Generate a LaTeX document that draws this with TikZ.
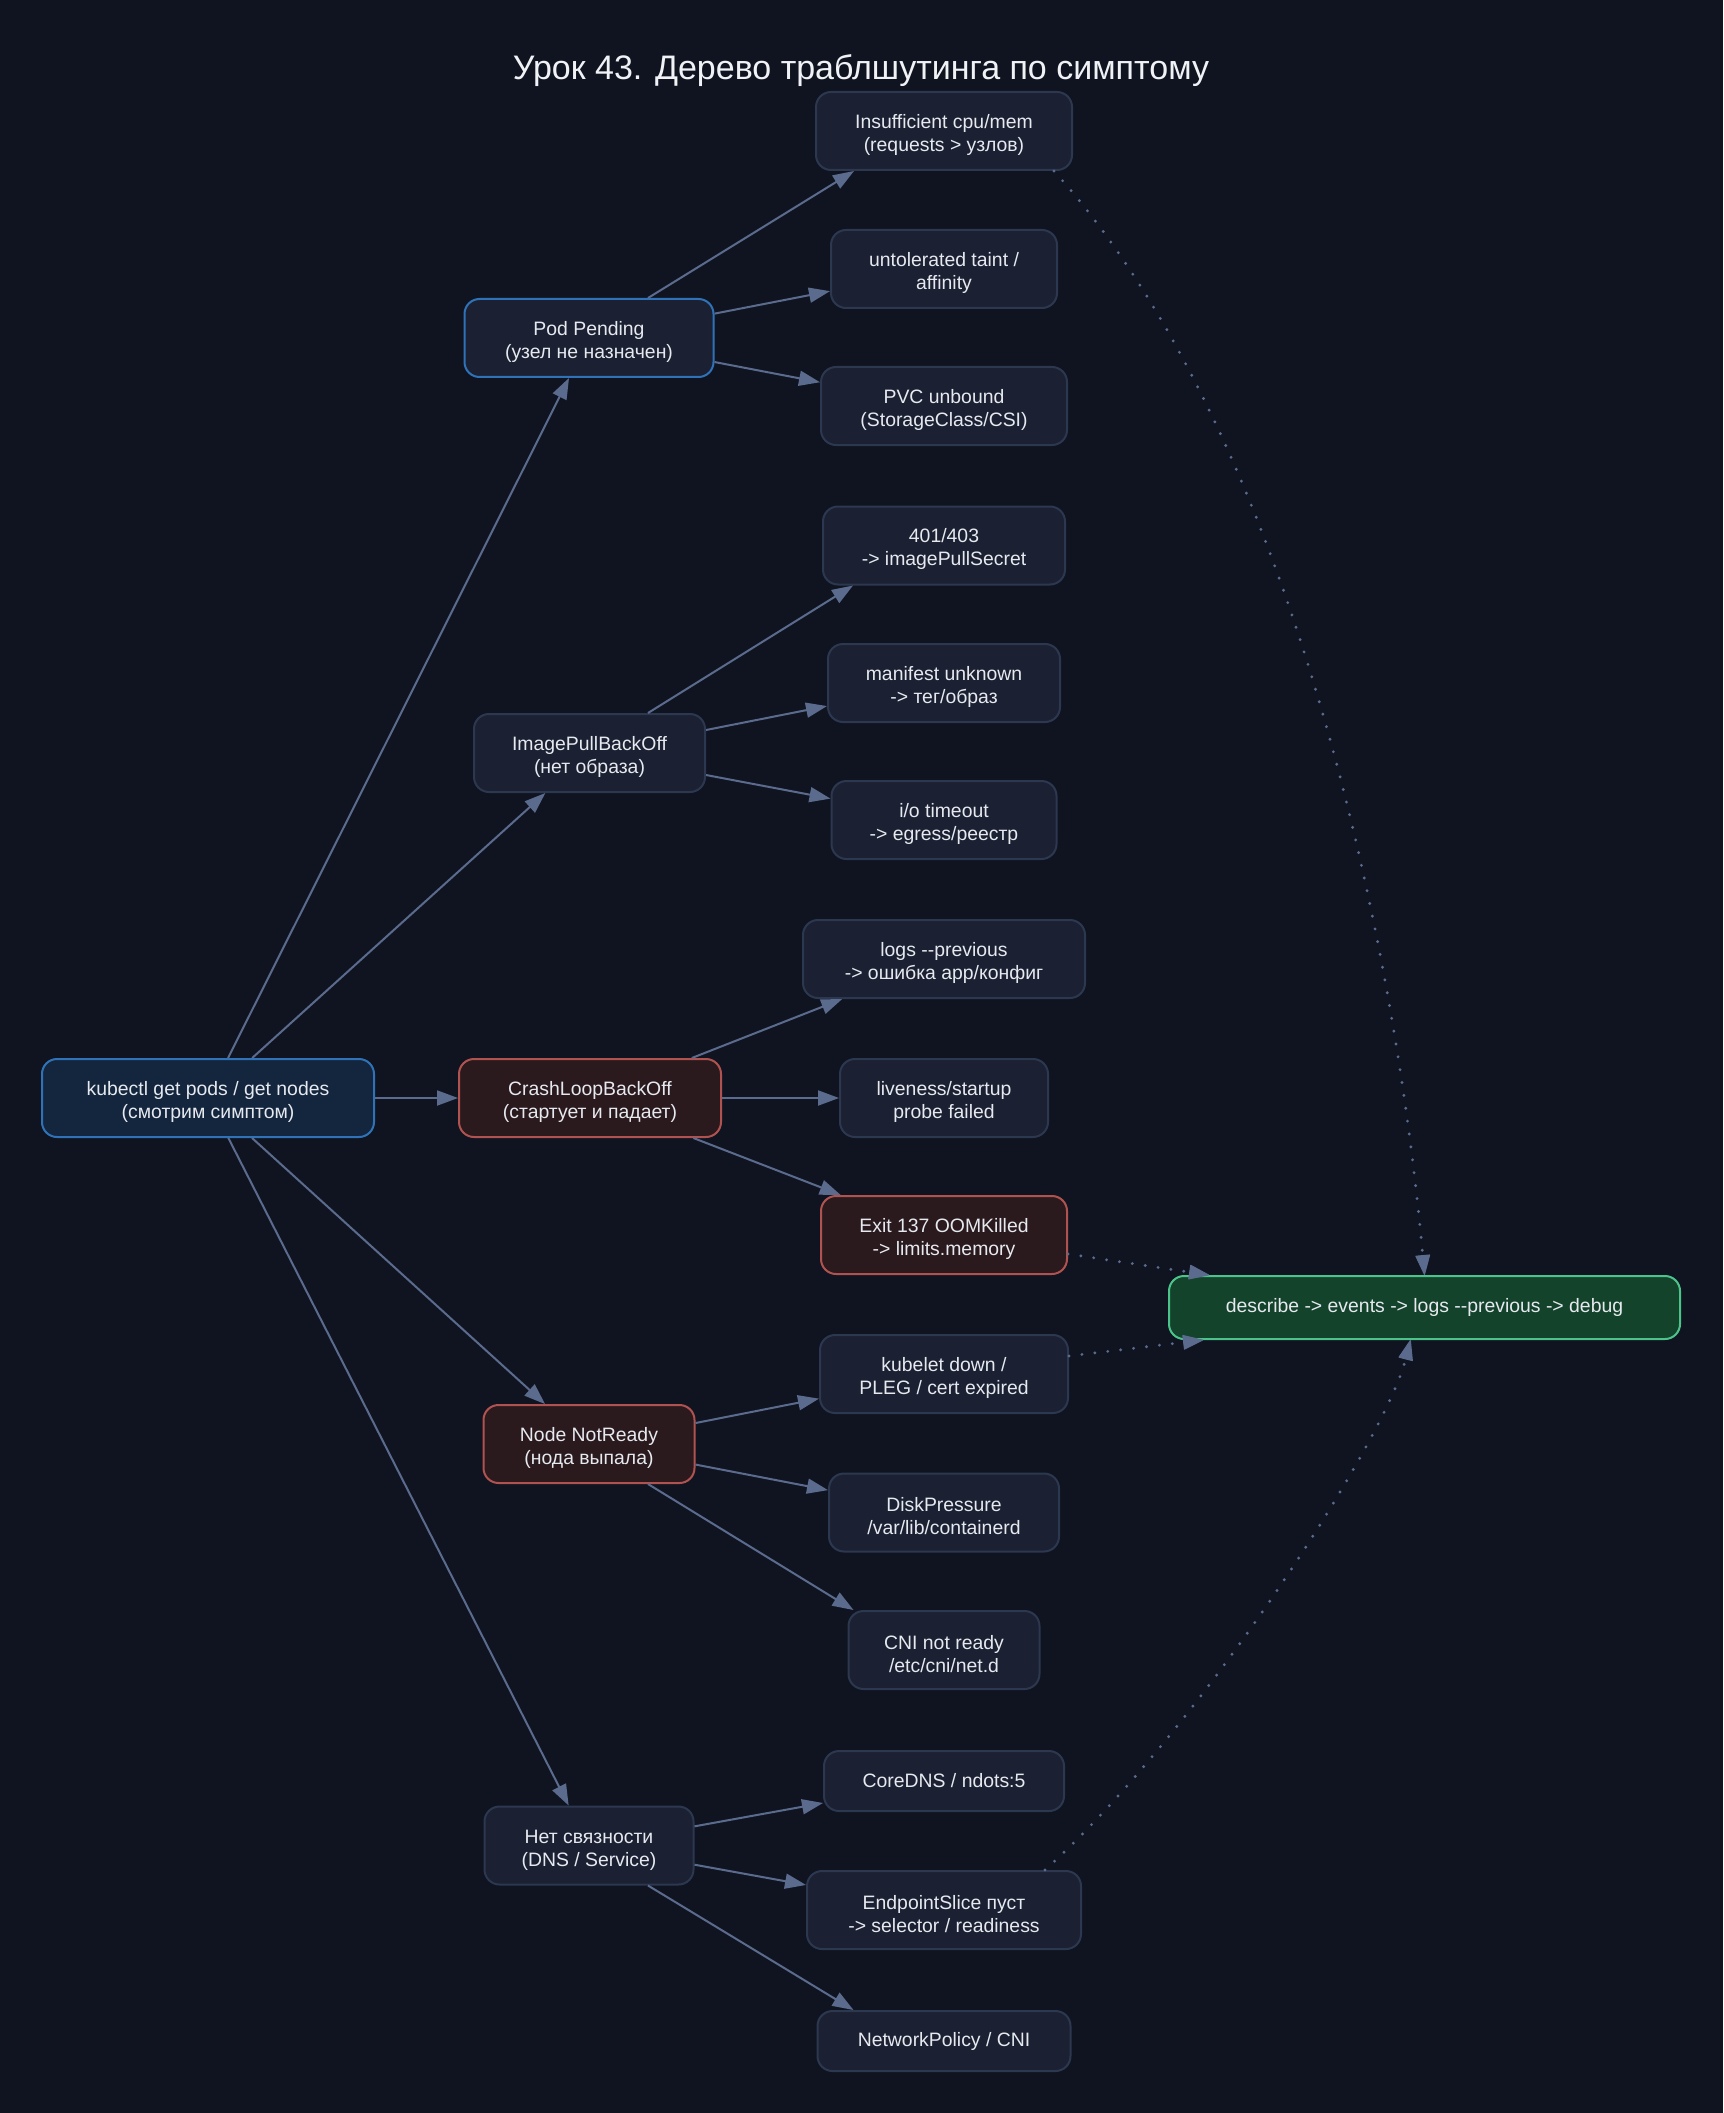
\documentclass[tikz,border=0pt]{standalone}
\usepackage{fontspec}
\setmainfont{Liberation Sans}
\usetikzlibrary{arrows.meta,calc}
\definecolor{bg}{HTML}{0F1420}
\definecolor{leaffill}{HTML}{1B2132}
\definecolor{leafdraw}{HTML}{2C3750}
\definecolor{rootfill}{HTML}{13263D}
\definecolor{bluedraw}{HTML}{2F72B8}
\definecolor{redfill}{HTML}{2A1A1D}
\definecolor{reddraw}{HTML}{B0524F}
\definecolor{greenfill}{HTML}{14432C}
\definecolor{greendraw}{HTML}{4CC38A}
\definecolor{edgec}{HTML}{5B6B8E}
\definecolor{txt}{HTML}{E6E9EF}
\definecolor{titlec}{HTML}{F0F2F6}
\newcommand{\hy}{\mbox{-}}
\newcommand{\tl}{\rule{0pt}{11pt}}
\tikzset{
  box/.style={rounded corners=7.5pt, draw, line width=1pt, align=center,
    text=txt, font=\fontsize{9.7}{11.5}\selectfont, inner sep=3pt, minimum height=39pt},
  leaf/.style={box, fill=leaffill, draw=leafdraw},
  rootbox/.style={box, fill=rootfill, draw=bluedraw},
  bluebox/.style={box, fill=leaffill, draw=bluedraw},
  redbox/.style={box, fill=redfill, draw=reddraw},
  greenbox/.style={box, fill=greenfill, draw=greendraw},
  titlestyle/.style={text=titlec, font=\fontsize{17}{20}\selectfont, inner sep=0pt},
  edge/.style={draw=edgec, line width=1pt, -{Triangle[length=10.5pt,width=7.5pt]}},
  dotedge/.style={draw=edgec, line width=1.6pt, line cap=round, dash pattern=on 0pt off 6.5pt,
    -{Triangle[length=10.5pt,width=7.5pt,fill=edgec,line width=0.5pt,round]}},
}
\begin{document}
\begin{tikzpicture}[x=0.5pt,y=-0.5pt]
\fill[bg] (0,0) rectangle (1723,2113);
\useasboundingbox (0,0) rectangle (1723,2113);
\node[titlestyle] (title) at (861,71) {Урок 43. Дерево траблшутинга по симптому};

% symptoms
\node[rootbox, minimum width=166pt] (root) at (208,1098) {\tl kubectl get pods / get nodes\\(смотрим симптом)};
\node[bluebox, minimum width=124.5pt] (pod) at (589,338) {\tl Pod Pending\\(узел не назначен)};
\node[leaf, minimum width=115.5pt] (img) at (589.5,753) {\tl ImagePullBackOff\\(нет образа)};
\node[redbox, minimum width=131pt] (crash) at (590,1098) {\tl CrashLoopBackOff\\(стартует и падает)};
\node[redbox, minimum width=105.5pt] (nnr) at (589,1444) {\tl Node NotReady\\(нода выпала)};
\node[leaf, minimum width=104.5pt] (net) at (589,1845.5) {\tl Нет связности\\(DNS / Service)};

% causes
\node[leaf, minimum width=128pt] (ins) at (944,131) {\tl Insufficient cpu/mem\\(requests > узлов)};
\node[leaf, minimum width=113pt] (taint) at (944,269) {\tl untolerated taint /\\affinity};
\node[leaf, minimum width=123pt] (pvc) at (944,406) {\tl PVC unbound\\(StorageClass/CSI)};
\node[leaf, minimum width=121pt] (auth) at (944,545.5) {\tl 401/403\\\hy> imagePullSecret};
\node[leaf, minimum width=116pt] (manif) at (944,683) {\tl manifest unknown\\\hy> тег/образ};
\node[leaf, minimum width=112.5pt] (iot) at (944,820) {\tl i/o timeout\\\hy> egress/реестр};
\node[leaf, minimum width=141pt] (logs) at (944,959) {\tl logs \hy\hy previous\\\hy> ошибка app/конфиг};
\node[leaf, minimum width=104pt] (live) at (944,1098) {\tl liveness/startup\\probe failed};
\node[redbox, minimum width=123pt] (oom) at (944,1235) {\tl Exit 137 OOMKilled\\\hy> limits.memory};
\node[leaf, minimum width=124pt] (kub) at (944,1374) {\tl kubelet down /\\PLEG / cert expired};
\node[leaf, minimum width=115pt] (disk) at (944,1512.5) {\tl DiskPressure\\/var/lib/containerd};
\node[leaf, minimum width=95.5pt] (cni) at (944,1650) {\tl CNI not ready\\/etc/cni/net.d};
\node[leaf, minimum width=120pt, minimum height=30pt] (dns) at (944,1781) {CoreDNS / ndots:5};
\node[leaf, minimum width=137pt] (eps) at (944,1910) {\tl EndpointSlice пуст\\\hy> selector / readiness};
\node[leaf, minimum width=126.5pt, minimum height=30pt] (np) at (944,2041) {NetworkPolicy / CNI};

\node[greenbox, minimum width=255.5pt, minimum height=31.5pt] (desc) at (1424.5,1307.5) {describe \hy> events \hy> logs \hy\hy previous \hy> debug};

% root edges
\draw[edge] (root) -- (pod);
\draw[edge] (root) -- (img);
\draw[edge] (root) -- (crash);
\draw[edge] (root) -- (nnr);
\draw[edge] (root) -- (net);

% pending
\draw[edge] ($(pod.north)+(59,0)$) -- ($(ins.south west)+(39,0)$);
\draw[edge] (pod) -- (taint);
\draw[edge] (pod) -- (pvc);
% image
\draw[edge] ($(img.north)+(58.5,0)$) -- ($(auth.south west)+(31,0)$);
\draw[edge] (img) -- (manif);
\draw[edge] (img) -- (iot);
% crash
\draw[edge] (crash) -- (logs);
\draw[edge] (crash) -- (live);
\draw[edge] (crash) -- (oom);
% node
\draw[edge] (nnr) -- (kub);
\draw[edge] (nnr) -- (disk);
\draw[edge] ($(nnr.south)+(59,0)$) -- ($(cni.north west)+(6,0)$);
% network
\draw[edge] (net) -- (dns);
\draw[edge] (net) -- (eps);
\draw[edge] ($(net.south)+(59,0)$) -- ($(np.north west)+(37,0)$);

% dotted to describe
\draw[dotedge] ($(ins.south east)+(-19,0)$) .. controls (1287,430) and (1393,924) .. (desc.north);
\draw[dotedge] ($(oom.east)+(0,19)$) -- ($(desc.north west)+(41,0)$);
\draw[dotedge] ($(kub.east)+(0,-18)$) -- ($(desc.south west)+(35,0)$);
\draw[dotedge] ($(eps.north east)+(-37,0)$) .. controls (1200,1730) and (1385,1440) .. ($(desc.south)+(-14,0)$);
\end{tikzpicture}
\end{document}
